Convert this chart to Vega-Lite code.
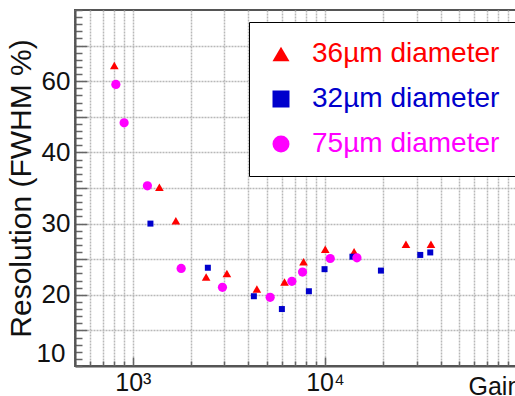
{
  "$schema": "https://vega.github.io/schema/vega-lite/v6.json",
  "width": 442,
  "height": 356,
  "autosize": {"type": "none"},
  "padding": {"left": 75, "top": 10, "right": 0, "bottom": 30},
  "background": "white",
  "config": {
    "font": "Liberation Sans",
    "view": {"stroke": "#555", "strokeWidth": 2},
    "axis": {
      "domainColor": "#555",
      "domainWidth": 2,
      "tickColor": "#666",
      "tickWidth": 1.5,
      "gridColor": "#b8b8b8",
      "gridDash": [2, 1],
      "gridWidth": 1.5,
      "labelColor": "#111",
      "titleColor": "#111",
      "titleFontWeight": "normal",
      "labelOverlap": false
    }
  },
  "data": {
    "values": [
      {"sample": "36µm diameter", "gain": 801, "resolution": 64.4},
      {"sample": "36µm diameter", "gain": 1375, "resolution": 35.1},
      {"sample": "36µm diameter", "gain": 1675, "resolution": 30.4},
      {"sample": "36µm diameter", "gain": 2408, "resolution": 22.5},
      {"sample": "36µm diameter", "gain": 3088, "resolution": 23.0},
      {"sample": "36µm diameter", "gain": 4424, "resolution": 20.8},
      {"sample": "36µm diameter", "gain": 6161, "resolution": 21.8},
      {"sample": "36µm diameter", "gain": 7737, "resolution": 24.65},
      {"sample": "36µm diameter", "gain": 10040, "resolution": 26.4},
      {"sample": "36µm diameter", "gain": 14190, "resolution": 26.05},
      {"sample": "36µm diameter", "gain": 26420, "resolution": 27.1},
      {"sample": "36µm diameter", "gain": 35650, "resolution": 27.1},
      {"sample": "32µm diameter", "gain": 1235, "resolution": 30.0},
      {"sample": "32µm diameter", "gain": 2458, "resolution": 23.8},
      {"sample": "32µm diameter", "gain": 4267, "resolution": 19.8},
      {"sample": "32µm diameter", "gain": 5970, "resolution": 18.0},
      {"sample": "32µm diameter", "gain": 8254, "resolution": 20.5},
      {"sample": "32µm diameter", "gain": 9955, "resolution": 23.6},
      {"sample": "32µm diameter", "gain": 13910, "resolution": 25.35},
      {"sample": "32µm diameter", "gain": 19570, "resolution": 23.4},
      {"sample": "32µm diameter", "gain": 31360, "resolution": 25.6},
      {"sample": "32µm diameter", "gain": 35350, "resolution": 25.95},
      {"sample": "75µm diameter", "gain": 816, "resolution": 59.1},
      {"sample": "75µm diameter", "gain": 901, "resolution": 48.3},
      {"sample": "75µm diameter", "gain": 1191, "resolution": 35.3},
      {"sample": "75µm diameter", "gain": 1785, "resolution": 23.7},
      {"sample": "75µm diameter", "gain": 2928, "resolution": 21.05},
      {"sample": "75µm diameter", "gain": 5188, "resolution": 19.65},
      {"sample": "75µm diameter", "gain": 6730, "resolution": 21.9},
      {"sample": "75µm diameter", "gain": 7646, "resolution": 23.2},
      {"sample": "75µm diameter", "gain": 10660, "resolution": 25.1},
      {"sample": "75µm diameter", "gain": 14680, "resolution": 25.2}
    ]
  },
  "encoding": {
    "x": {
      "field": "gain",
      "type": "quantitative",
      "scale": {"type": "log", "domain": [500, 100000], "nice": false},
      "axis": {
        "values": [500, 600, 700, 800, 900, 1000, 2000, 3000, 4000, 5000, 6000, 7000, 8000, 9000, 10000, 20000, 30000, 40000, 50000, 60000, 70000, 80000, 90000, 100000],
        "labelExpr": "datum.value == 1000 ? '10³' : datum.value == 10000 ? '10⁴' : ''",
        "labelFontSize": 25,
        "labelPadding": 13,
        "tickSize": {"condition": {"test": "datum.value == 1000 || datum.value == 10000", "value": -9}, "value": -5},
        "title": "Gain",
        "titleFontSize": 25,
        "titleAlign": "left",
        "titleBaseline": "top",
        "titleX": 393,
        "titleY": 8
      }
    },
    "y": {
      "field": "resolution",
      "type": "quantitative",
      "scale": {"domain": [10, 20, 30, 40, 60, 80], "range": [356, 284.8, 213.6, 142.4, 71.2, 0], "nice": false, "zero": false},
      "axis": {
        "values": [10, 11, 12, 13, 14, 15, 16, 17, 18, 19, 20, 21, 22, 23, 24, 25, 26, 27, 28, 29, 30, 31, 32, 33, 34, 35, 36, 37, 38, 39, 40, 42, 44, 46, 48, 50, 52, 54, 56, 58, 60, 62, 64, 66, 68, 70, 72, 74, 76, 78, 80],
        "labelExpr": "indexof([10, 20, 30, 40, 60], datum.value) >= 0 ? datum.label : ''",
        "labelFontSize": 26,
        "labelPadding": 17,
        "labelFlush": true,
        "gridOpacity": {"condition": {"test": "indexof([15, 20, 25, 30, 35, 40, 50, 60, 70], datum.value) >= 0", "value": 1}, "value": 0},
        "tickSize": {"condition": {"test": "indexof([15, 20, 25, 30, 35, 40, 50, 60, 70], datum.value) >= 0", "value": -12}, "value": -7},
        "title": "Resolution (FWHM %)",
        "titleFontSize": 30,
        "titlePadding": 0
      }
    },
    "color": {
      "field": "sample",
      "type": "nominal",
      "scale": {"domain": ["36µm diameter", "32µm diameter", "75µm diameter"], "range": ["#ff0000", "#0000cc", "#ff00ff"]},
      "legend": {
        "orient": "none",
        "legendX": 174,
        "legendY": 12,
        "title": null,
        "fillColor": "white",
        "strokeColor": "black",
        "padding": 18,
        "rowPadding": 17,
        "labelFontSize": 28,
        "labelOffset": 17,
        "labelLimit": 400,
        "labelColor": {"expr": "datum.index === 0 ? '#ff0000' : datum.index === 1 ? '#0000cc' : '#ff00ff'"},
        "symbolSize": 289,
        "symbolStrokeWidth": 0,
        "encode": {
          "symbols": {"size": {"value": {"expr": "datum.index === 1 ? 196 : datum.index === 2 ? 310 : 289"}}},
          "legend": {"strokeWidth": {"value": 2}}
        }
      }
    },
    "shape": {
      "field": "sample",
      "type": "nominal",
      "scale": {"domain": ["36µm diameter", "32µm diameter", "75µm diameter"], "range": ["triangle-up", "square", "circle"]}
    }
  },
  "layer": [
    {
      "transform": [{"filter": "datum.sample == '36µm diameter'"}],
      "mark": {"type": "point", "filled": true, "opacity": 1, "size": 75}
    },
    {
      "transform": [{"filter": "datum.sample == '32µm diameter'"}],
      "mark": {"type": "point", "filled": true, "opacity": 1, "size": 36}
    },
    {
      "transform": [{"filter": "datum.sample == '75µm diameter'"}],
      "mark": {"type": "point", "filled": true, "opacity": 1, "size": 85}
    }
  ]
}
